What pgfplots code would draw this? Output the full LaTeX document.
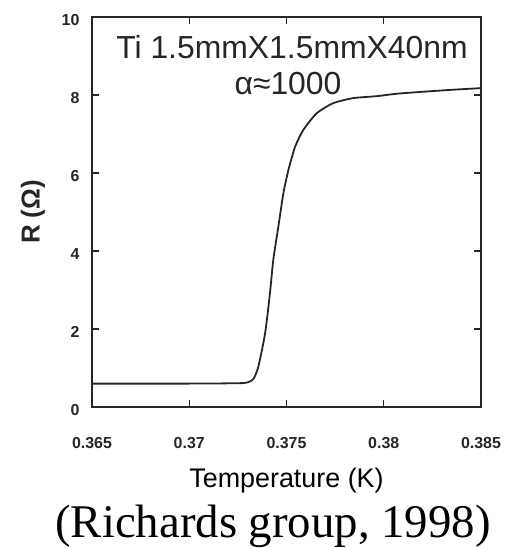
\documentclass[border=0pt]{standalone}
\usepackage{pgfplots}
\pgfplotsset{compat=1.18}
\usepackage{fontspec}
\setmainfont{Liberation Sans}
\newfontfamily\seriffont{Liberation Serif}
\begin{document}
\begin{tikzpicture}
\path[use as bounding box] (-92bp,-141bp) rectangle (420bp,407bp);
\begin{axis}[
  at={(0,0)}, anchor=south west,
  scale only axis, width=389bp, height=390bp,
  xmin=0.365, xmax=0.385, ymin=0, ymax=10,
  xtick={0.365,0.37,0.375,0.38,0.385},
  xticklabels={0.365,0.37,0.375,0.38,0.385},
  ytick={0,2,4,6,8,10},
  yticklabels={0,2,4,6,8,10},
  tick align=inside,
  major tick length=7bp,
  axis line style={line width=1.6bp, black!85},
  every tick/.style={line width=1.3bp, black!85},
  tick label style={font=\fontsize{16}{18}\selectfont\bfseries, text=black!85},
  xticklabel style={yshift=-27bp},
  yticklabel style={xshift=-9bp, yshift=-3bp},
  xlabel={Temperature (K)},
  xlabel style={at={(axis description cs:0.5,0)}, anchor=base, yshift=-80bp, font=\fontsize{27}{30}\selectfont},
]
\addplot[black!85, line width=1.8bp, smooth, tension=0.4] coordinates {
(0.365,0.60)
(0.370,0.60)
(0.3725,0.61)
(0.37300,0.63)
(0.37330,0.72)
(0.37355,1.03)
(0.3739,1.89)
(0.37415,2.92)
(0.37432,3.77)
(0.37458,4.62)
(0.37484,5.48)
(0.3751,6.08)
(0.37544,6.67)
(0.37586,7.10)
(0.37655,7.53)
(0.3774,7.79)
(0.37843,7.92)
(0.37964,7.97)
(0.38083,8.04)
(0.3834,8.13)
(0.38478,8.17)
(0.385,8.18)
};
\end{axis}
\node[rotate=90, anchor=center, text=black!85] at (-59bp,195bp) {\fontsize{26}{30}\selectfont\bfseries R (Ω)};
\node[anchor=base, text=black!85] at (200bp,348bp) {\fontsize{32}{36}\selectfont Ti 1.5mmX1.5mmX40nm};
\node[anchor=base, text=black!85] at (196bp,312bp) {\fontsize{32}{36}\selectfont α≈1000};
\node[anchor=base] at (181bp,-130bp) {\fontsize{47}{50}\selectfont\seriffont (Richards group, 1998)};
\end{tikzpicture}
\end{document}
